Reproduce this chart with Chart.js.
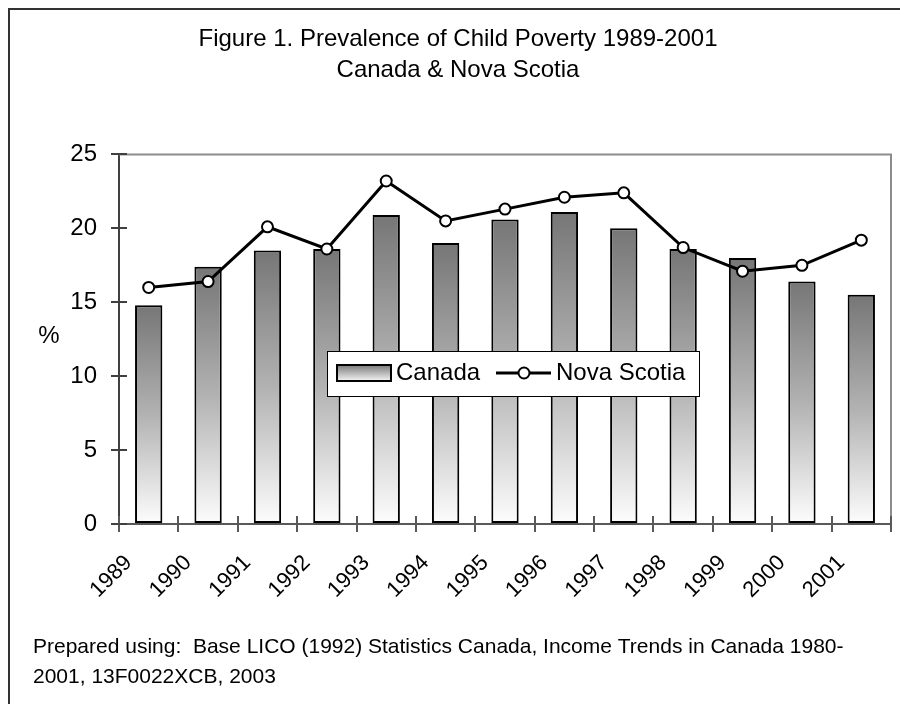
<!DOCTYPE html>
<html>
<head>
<meta charset="utf-8">
<script src="https://cdn.jsdelivr.net/npm/chart.js@4.4.1/dist/chart.umd.min.js"></script>
<style>
  html, body { margin: 0; padding: 0; background: #fff; }
  #wrap { position: relative; width: 900px; height: 704px; overflow: hidden; }
</style>
</head>
<body>
<div id="wrap"><canvas id="povertyChart"></canvas></div>
<script>
const years = ['1989', '1990', '1991', '1992', '1993', '1994', '1995', '1996', '1997', '1998', '1999', '2000', '2001'];
const canada = [14.8, 17.4, 18.5, 18.6, 20.9, 19.0, 20.6, 21.1, 20.0, 18.6, 18.0, 16.4, 15.5];
const novaScotia = [16.0, 16.4, 20.1, 18.6, 23.2, 20.5, 21.3, 22.1, 22.4, 18.7, 17.1, 17.5, 19.2];
const yTicks = [0, 5, 10, 15, 20, 25];
const titleLines = ['Figure 1. Prevalence of Child Poverty 1989-2001', 'Canada & Nova Scotia'];
const footnote = ['Prepared using:  Base LICO (1992) Statistics Canada, Income Trends in Canada 1980-', '2001, 13F0022XCB, 2003'];

const FONT = "'Liberation Sans', Arial, sans-serif";

function barGradient(ctx) {
    const chart = ctx.chart;
    if (!chart.chartArea || ctx.type !== 'data') return '#999';
    const y = chart.scales.y;
    const top = y.getPixelForValue(ctx.raw);
    const bottom = y.getPixelForValue(0);
    const g = chart.ctx.createLinearGradient(0, top, 0, bottom);
    g.addColorStop(0, '#767676');
    g.addColorStop(0.5, '#b2b2b2');
    g.addColorStop(1, '#fdfdfd');
    return g;
}

// white page + outer frame, gray frame round the plot area
const framePlugin = {
    id: 'frame',
    beforeDraw(chart) {
        const c = chart.ctx;
        c.save();
        c.fillStyle = '#fff';
        c.fillRect(0, 0, chart.width, chart.height);
        c.strokeStyle = '#333';
        c.lineWidth = 2;
        c.strokeRect(9, 9, chart.width + 20, chart.height + 20);
        c.restore();
    },
    beforeDatasetsDraw(chart) {
        const a = chart.chartArea;
        const c = chart.ctx;
        c.save();
        c.strokeStyle = '#8c8c8c';
        c.lineWidth = 2;
        c.beginPath();
        c.moveTo(a.left, a.top);
        c.lineTo(a.right, a.top);
        c.lineTo(a.right, a.bottom);
        c.stroke();
        c.restore();
    }
};

// tick marks cross the axes: draw the inner half
const innerTicks = {
    id: 'innerTicks',
    afterDatasetsDraw(chart) {
        const c = chart.ctx;
        const x = chart.scales.x, y = chart.scales.y;
        c.save();
        c.lineWidth = 2;
        c.strokeStyle = '#595959';
        c.beginPath();
        for (let i = 0; i <= years.length; i++) {
            const px = Math.round(x.getPixelForValue(i - 0.5));
            c.moveTo(px, x.top);
            c.lineTo(px, x.top - 8);
        }
        c.stroke();
        c.strokeStyle = '#404040';
        c.beginPath();
        yTicks.forEach(v => {
            const py = Math.round(y.getPixelForValue(v));
            c.moveTo(y.right, py);
            c.lineTo(y.right + 8, py);
        });
        c.stroke();
        c.restore();
    }
};

// legend box sitting inside the plot, plus % label and source note
const extras = {
    id: 'extras',
    afterDatasetsDraw(chart) {
        const c = chart.ctx;
        const ds = chart.data.datasets;
        c.save();
        c.fillStyle = '#fff';
        c.fillRect(327, 351, 372, 45);
        c.strokeStyle = '#000';
        c.lineWidth = 1;
        c.strokeRect(327.5, 351.5, 372, 45);

        const g = c.createLinearGradient(0, 365, 0, 381);
        g.addColorStop(0, '#7a7a7a');
        g.addColorStop(1, '#f4f4f4');
        c.fillStyle = g;
        c.fillRect(337, 365, 54, 16);
        c.lineWidth = 2;
        c.strokeRect(337, 365, 54, 16);

        c.font = '24px ' + FONT;
        c.fillStyle = '#000';
        c.textBaseline = 'middle';
        c.textAlign = 'left';
        c.fillText(ds[1].label, 396, 373);

        c.lineWidth = 3;
        c.beginPath();
        c.moveTo(496, 373);
        c.lineTo(551, 373);
        c.stroke();
        c.beginPath();
        c.arc(524, 373, 5.5, 0, Math.PI * 2);
        c.fillStyle = '#fff';
        c.fill();
        c.lineWidth = 2;
        c.stroke();
        c.fillStyle = '#000';
        c.fillText(ds[0].label, 556, 373);
        c.restore();
    },
    afterDraw(chart) {
        const c = chart.ctx;
        c.save();
        c.fillStyle = '#000';
        c.font = '24px ' + FONT;
        c.textAlign = 'center';
        c.textBaseline = 'middle';
        c.fillText('%', 49, 336);
        c.font = '21px ' + FONT;
        c.textAlign = 'left';
        c.textBaseline = 'alphabetic';
        footnote.forEach((line, i) => c.fillText(line, 33, 653 + i * 30));
        c.restore();
    }
};

new Chart(document.getElementById('povertyChart'), {
    data: {
        labels: years,
        datasets: [{
            type: 'line',
            label: 'Nova Scotia',
            data: novaScotia,
            order: 1,
            borderColor: '#000',
            borderWidth: 3,
            tension: 0,
            pointRadius: 5.5,
            pointBorderWidth: 2,
            pointBackgroundColor: '#fff',
            pointBorderColor: '#000'
        }, {
            type: 'bar',
            label: 'Canada',
            data: canada,
            order: 2,
            backgroundColor: barGradient,
            borderColor: '#000',
            borderWidth: 2,
            borderSkipped: false,
            categoryPercentage: 1,
            barPercentage: 0.46
        }]
    },
    options: {
        responsive: true,
        maintainAspectRatio: false,
        animation: false,
        layout: { padding: { left: 25, right: 9, top: 0, bottom: 0 } },
        plugins: {
            legend: { display: false },
            tooltip: { enabled: false },
            title: {
                display: true,
                text: titleLines,
                color: '#000',
                font: { family: FONT, size: 24, weight: 'normal', lineHeight: 1.3 },
                padding: { top: 24, bottom: 68 }
            }
        },
        scales: {
            x: {
                type: 'category',
                offset: true,
                afterFit(scale) { scale.height = 180; },
                grid: {
                    offset: true,
                    drawOnChartArea: false,
                    drawTicks: true,
                    tickLength: 8,
                    tickColor: '#595959',
                    lineWidth: 2
                },
                border: { display: true, color: '#595959', width: 2 },
                ticks: {
                    color: '#000',
                    font: { family: FONT, size: 22 },
                    autoSkip: false,
                    minRotation: 45,
                    maxRotation: 45,
                    padding: 18,
                    labelOffset: -20
                }
            },
            y: {
                min: 0,
                max: 25,
                afterFit(scale) { scale.width = 94; },
                afterBuildTicks(scale) { scale.ticks = yTicks.map(v => ({ value: v })); },
                grid: {
                    drawOnChartArea: false,
                    drawTicks: true,
                    tickLength: 8,
                    tickColor: '#404040',
                    lineWidth: 2
                },
                border: { display: true, color: '#404040', width: 2 },
                ticks: {
                    color: '#000',
                    font: { family: FONT, size: 24 },
                    padding: 14
                }
            }
        }
    },
    plugins: [framePlugin, innerTicks, extras]
});
</script>
</body>
</html>
